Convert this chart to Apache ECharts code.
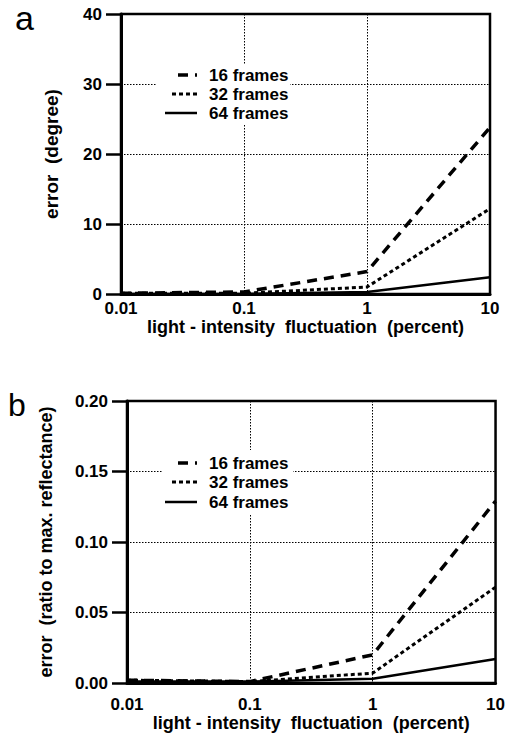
<!DOCTYPE html>
<html>
<head>
<meta charset="utf-8">
<script src="https://cdn.jsdelivr.net/npm/echarts@6/dist/echarts.min.js"></script>
<style>
html,body{margin:0;padding:0;background:#fff;}
#c{width:508px;height:748px;}
</style>
</head>
<body>
<div id="c"></div>
<script>
// ---- data ----
const fluct = [0.01, 0.1, 1, 10];           // light-intensity fluctuation (percent)
const seriesNames = ['16 frames', '32 frames', '64 frames'];
// panel a: error (degree)
const a16 = [0.1, 0.3, 3.2, 23.8];
const a32 = [0.1, 0.1, 1.0, 12.2];
const a64 = [0.0, 0.0, 0.3, 2.4];
// panel b: error (ratio to max. reflectance)
const b16 = [0.002, 0.001, 0.020, 0.129];
const b32 = [0.002, 0.001, 0.007, 0.068];
const b64 = [0.001, 0.001, 0.003, 0.017];
const xTicks = [0.01, 0.1, 1, 10];

const FONT = '"Liberation Sans", Arial, sans-serif';
const styles = [
  {width: 3.5, type: [10, 7]},
  {width: 3, type: [4, 3]},
  {width: 2.5, type: 'solid'}
];
function pairs(ys){ return fluct.map((x,i)=>[x, ys[i]]); }

const chart = echarts.init(document.getElementById('c'), null, {renderer: 'svg'});

function xAxisCfg(gi, margin, gap){
  return {
    gridIndex: gi, type: 'log', logBase: 10, min: 0.01, max: 10,
    name: 'light - intensity  fluctuation  (percent)',
    nameLocation: 'middle', nameGap: gap,
    nameTextStyle: {fontFamily: FONT, fontSize: 18, fontWeight: 'bold', color: '#000'},
    axisLine: {show: true, lineStyle: {color: '#000', width: 3}},
    axisTick: {show: false},
    axisLabel: {fontFamily: FONT, fontSize: 17, fontWeight: 'bold', color: '#000', margin: margin,
      formatter: v => String(v)},
    splitLine: {show: true, lineStyle: {color: '#000', width: 1, type: [1.5, 1.5]}},
    minorTick: {show: false}, minorSplitLine: {show: false}
  };
}
function yAxisCfg(gi, max, interval, name, gap, fmt, fs){
  return {
    gridIndex: gi, type: 'value', min: 0, max: max, interval: interval,
    name: name, nameLocation: 'middle', nameGap: gap, nameRotate: 90,
    nameTextStyle: {fontFamily: FONT, fontSize: fs, fontWeight: 'bold', color: '#000'},
    axisLine: {show: true, lineStyle: {color: '#000', width: 3}},
    axisTick: {show: true, inside: false, length: 15, lineStyle: {color: '#000', width: 2.5}},
    axisLabel: {fontFamily: FONT, fontSize: 17, fontWeight: 'bold', color: '#000', margin: 19, formatter: fmt},
    splitLine: {show: true, lineStyle: {color: '#000', width: 1, type: [1.5, 1.5]}}
  };
}
function mkSeries(gi, arrs){
  return arrs.map((ys, i) => ({
    type: 'line', name: seriesNames[i], xAxisIndex: gi, yAxisIndex: gi,
    data: pairs(ys), symbol: 'none', silent: true, animation: false,
    lineStyle: {color: '#000', width: styles[i].width, type: styles[i].type}
  }));
}
function legendGraphic(ys){
  const els = [];
  const starts = [178, 172, 165];
  ys.forEach((y, i) => {
    els.push({type: 'line', shape: {x1: starts[i], y1: y, x2: 197, y2: y},
      style: {stroke: '#000', lineWidth: styles[i].width, lineDash: Array.isArray(styles[i].type) ? styles[i].type : null}, z: 100});
    els.push({type: 'text', x: 209, y: y, style: {text: seriesNames[i], font: 'bold 17px ' + FONT, fill: '#000', textVerticalAlign: 'middle', textAlign: 'left'}, z: 100});
  });
  return els;
}

const option = {
  backgroundColor: '#fff',
  animation: false,
  grid: [
    {left: 121, right: 18, top: 14, height: 280, show: true, borderColor: '#000', borderWidth: 2.5, backgroundColor: 'transparent'},
    {left: 127, right: 11, top: 401, height: 282, show: true, borderColor: '#000', borderWidth: 2.5, backgroundColor: 'transparent'}
  ],
  xAxis: [xAxisCfg(0, 6, 24), xAxisCfg(1, 13, 29)],
  yAxis: [
    yAxisCfg(0, 40, 10, 'error  (degree)', 60, v => String(v), 19),
    yAxisCfg(1, 0.2, 0.05, 'error  (ratio to max. reflectance)', 72, v => v.toFixed(2), 18)
  ],
  series: [].concat(mkSeries(0, [a16, a32, a64]), mkSeries(1, [b16, b32, b64])),
  graphic: [
    {type: 'rect', shape: {x: 156, y: 64, width: 134, height: 60}, style: {fill: '#fff'}, z: 90},
    {type: 'rect', shape: {x: 163, y: 450, width: 130, height: 64}, style: {fill: '#fff'}, z: 90},
    {type: 'text', x: 15, y: 35, style: {text: 'a', font: '34px ' + FONT, fill: '#000', textVerticalAlign: 'bottom'}, z: 100},
    {type: 'text', x: 8, y: 421, style: {text: 'b', font: '32px ' + FONT, fill: '#000', textVerticalAlign: 'bottom'}, z: 100}
  ].concat(legendGraphic([75, 94, 113]), legendGraphic([463, 482, 502]))
};
chart.setOption(option);
</script>
</body>
</html>
